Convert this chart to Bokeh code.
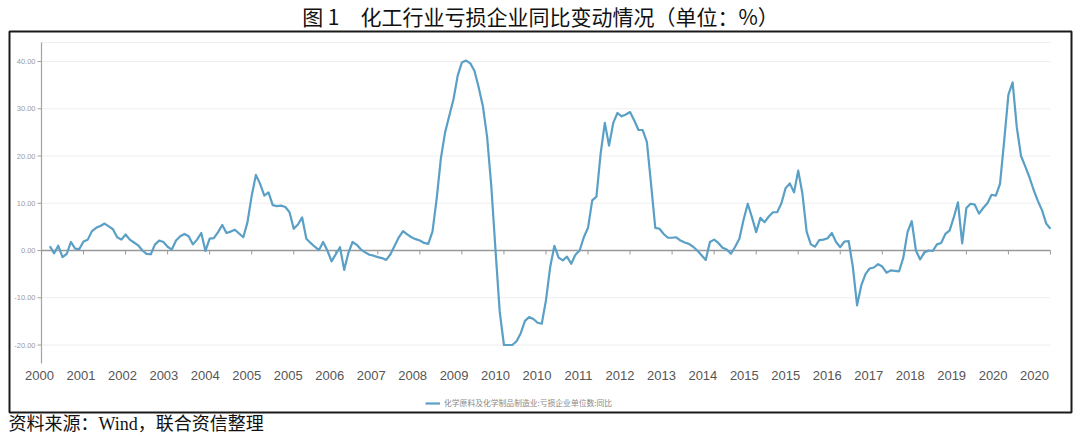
from bokeh.plotting import figure
from bokeh.models import Range1d, Label, BoxAnnotation, Legend, LegendItem
from bokeh.embed import file_html
from bokeh.resources import INLINE

# ---------------- data ----------------
title_text = "图 1　化工行业亏损企业同比变动情况（单位：%）"
source_text = "资料来源：Wind，联合资信整理"
series_name = "化学原料及化学制品制造业:亏损企业单位数:同比"

tick_labels = ["2000", "2001", "2002", "2003", "2004", "2005", "2005", "2006", "2007",
               "2008", "2009", "2010", "2010", "2011", "2012", "2013", "2014", "2015",
               "2015", "2016", "2017", "2018", "2019", "2020", "2020"]

# month index (0 = axis start), one value per month
values = [
    0.9, -0.6, 1.0, -1.4, -0.7, 1.8, 0.4, 0.3, 1.9, 2.3,
    4.1, 4.8, 5.2, 5.7, 5.1, 4.5, 2.8, 2.3, 3.4, 2.3,
    1.7, 1.1, 0.0, -0.7, -0.8, 1.3, 2.1, 1.8, 0.8, 0.2,
    2.1, 3.0, 3.5, 3.0, 1.3, 2.3, 3.7, -0.1, 2.5, 2.6,
    3.9, 5.4, 3.7, 4.0, 4.4, 3.6, 2.8, 6.0, 11.6, 16.0,
    14.1, 11.6, 12.3, 9.6, 9.4, 9.5, 9.2, 8.1, 4.6, 5.5,
    7.0, 2.5, 1.6, 0.8, 0.1, 1.8, 0.0, -2.3, -0.8, 0.7,
    -4.1, -0.5, 1.8, 1.2, 0.2, -0.4, -0.9, -1.1, -1.4, -1.6,
    -2.0, -0.8, 1.0, 2.8, 4.1, 3.4, 2.8, 2.4, 2.1, 1.6,
    1.4, 4.0, 11.0, 19.5, 25.0, 28.5, 32.0, 37.0, 39.8, 40.2,
    39.6, 38.0, 34.5, 30.5, 24.0, 13.5, 0.0, -13.0, -20.0, -20.0,
    -20.0, -19.2, -17.5, -14.9, -14.1, -14.5, -15.3, -15.5, -10.5, -3.5,
    1.0, -1.5, -2.1, -1.3, -2.8, -0.9, 0.0, 2.8, 4.8, 10.6,
    11.4, 20.5, 27.0, 22.2, 27.0, 29.1, 28.4, 28.8, 29.3, 27.5,
    25.5, 25.5, 23.0, 14.0, 4.8, 4.6, 3.5, 2.7, 2.7, 2.8,
    2.1, 1.7, 1.4, 0.8, 0.0, -1.0, -2.0, 1.8, 2.3, 1.6,
    0.6, 0.2, -0.7, 0.8, 2.5, 6.5, 9.9, 7.0, 3.9, 6.9,
    6.0, 7.2, 8.1, 8.1, 10.0, 13.2, 14.2, 12.3, 16.9, 12.0,
    4.0, 1.3, 0.8, 2.2, 2.3, 2.6, 3.7, 1.8, 0.7, 1.9,
    2.0, -3.5, -11.6, -7.4, -5.0, -3.8, -3.6, -2.9, -3.4, -4.7,
    -4.2, -4.3, -4.4, -1.5, 3.9, 6.2, 0.0, -1.9, -0.4, 0.0,
    -0.1, 1.3, 1.6, 3.5, 4.2, 7.0, 10.2, 1.5, 9.0, 9.9,
    9.7, 7.8, 9.0, 10.0, 11.8, 11.6, 14.1, 23.3, 33.0, 35.6,
    26.0, 20.0, 17.8, 15.5, 12.8, 10.5, 8.5, 5.7, 4.6,
]
first_month = 2
months = list(range(first_month, first_month + len(values)))
y_ticks = [-20, -10, 0, 10, 20, 30, 40]
y_tick_labels = ["-20.00", "-10.00", "0.00", "10.00", "20.00", "30.00", "40.00"]

# ---------------- layout constants (pixels) ----------------
W, H = 1080, 440
X0_PX, PX_PER_MONTH = 41.0, 4.204          # month 0 position, scale
Y0_PX, PX_PER_UNIT = 250.0, 4.725          # value 0 position (from top), scale
X_END = 240                                 # last month on axis
Y_LO, Y_HI = -23.9, 44.0                    # plotting area limits


def px_x(px):
    return (px - X0_PX) / PX_PER_MONTH


def px_y(py):
    return (Y0_PX - py) / PX_PER_UNIT


p = figure(width=W, height=H, output_backend="svg", toolbar_location=None,
           x_range=Range1d(px_x(0), px_x(W)), y_range=Range1d(px_y(H), px_y(0)),
           x_axis_location=None, y_axis_location=None,
           min_border_left=0, min_border_right=0, min_border_top=0, min_border_bottom=0)
p.outline_line_color = None
p.background_fill_color = "white"
p.border_fill_color = "white"
p.xgrid.visible = False
p.ygrid.visible = False

grid_color = "#eeeeee"
axis_color = "#a3a3a3"

# horizontal grid lines (incl. top edge of plotting area)
grid_y = y_ticks + [Y_HI]
p.segment(x0=[0] * len(grid_y), x1=[X_END] * len(grid_y), y0=grid_y, y1=grid_y,
          line_color=grid_color, line_width=1)

# y axis line, ticks, labels
p.segment(x0=[0], x1=[0], y0=[Y_LO], y1=[Y_HI], line_color=axis_color, line_width=1.2)
p.segment(x0=[-4 / PX_PER_MONTH] * len(y_ticks), x1=[0] * len(y_ticks), y0=y_ticks, y1=y_ticks,
          line_color=axis_color, line_width=1)
p.text(x=[0] * len(y_ticks), y=y_ticks, text=y_tick_labels, x_offset=-6,
       text_align="right", text_baseline="middle", text_font_size="7.5px",
       text_color="#9a9a9a", text_font={"value": "Liberation Sans"})

# zero line with tick marks
tick_months = list(range(0, X_END + 1, 10))
p.segment(x0=[0], x1=[X_END], y0=[0], y1=[0], line_color="#999999", line_width=1.6)
p.segment(x0=tick_months, x1=tick_months, y0=[0] * len(tick_months),
          y1=[-4 / PX_PER_UNIT] * len(tick_months), line_color="#999999", line_width=1)

# year labels
n = len(tick_labels)
label_pos = [-0.48 + 236.7 * k / (n - 1) for k in range(n)]
p.text(x=label_pos, y=[Y_LO] * n, text=tick_labels, y_offset=12,
       text_align="center", text_baseline="middle", text_font_size="13px",
       text_color="#555555", text_font={"value": "Liberation Sans"})

# the series
line_color = "#5a9fc5"
r = p.line(months, values, line_color=line_color, line_width=2.2, line_join="round")

# legend
leg = Legend(items=[LegendItem(label=series_name, renderers=[r])], orientation="horizontal",
             location=(425, 32), label_text_font_size="7.8px", label_text_color="#888888",
             label_text_font="Noto Sans CJK SC", glyph_width=15, glyph_height=8,
             label_standoff=4, border_line_color=None, background_fill_alpha=0,
             padding=0, margin=0, spacing=0, label_height=10)
p.add_layout(leg, "center")

# outer frame
p.add_layout(BoxAnnotation(left=px_x(9), right=px_x(1071), top=px_y(31), bottom=px_y(412),
                           fill_color=None, fill_alpha=0, line_color="#1a1a1a", line_alpha=1.0,
                           line_width=2, level="overlay"))

# title and source
p.add_layout(Label(x=540, y=15, x_units="canvas", y_units="canvas", text=title_text,
                   text_align="center", text_baseline="middle",
                   text_font="'Noto Sans CJK SC'", text_font_size="21px",
                   text_color="#111111"))
p.add_layout(Label(x=8, y=423, x_units="canvas", y_units="canvas", text=source_text,
                   text_align="left", text_baseline="middle",
                   text_font="'Liberation Serif', 'Noto Sans CJK SC'", text_font_size="18px",
                   text_color="#111111"))

open("out.html", "w").write(file_html(p, INLINE))
